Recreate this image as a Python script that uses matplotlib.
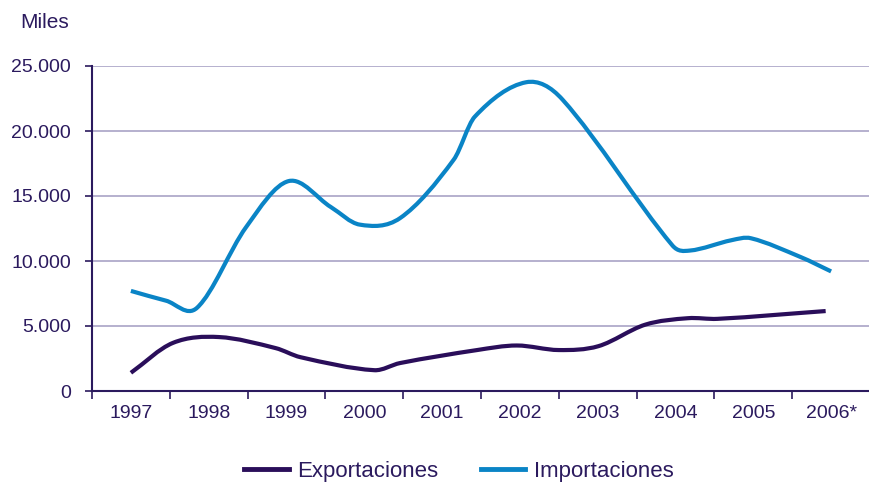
import matplotlib
matplotlib.use("Agg")
import matplotlib.pyplot as plt
from matplotlib.path import Path
from matplotlib.patches import PathPatch
from matplotlib.lines import Line2D

plt.rcParams['font.family'] = ['Liberation Sans', 'DejaVu Sans']

years = [1997, 1998, 1999, 2000, 2001, 2002, 2003, 2004, 2005, 2006]
year_labels = ['1997', '1998', '1999', '2000', '2001', '2002', '2003', '2004', '2005', '2006*']

# points (x in years, y in miles)
exp_x = [1997.0, 1997.54, 1998.13, 1998.86, 1999.18, 2000.13, 2000.46, 2001.45,
         2001.96, 2002.5, 2003.01, 2003.61, 2004.16, 2004.54, 2005.93]
exp_y = [1400, 3700, 4150, 3300, 2600, 1600, 2150, 3150,
         3500, 3150, 3450, 5100, 5600, 5550, 6150]

imp_x = [1997.0, 1997.45, 1997.85, 1998.48, 1999.03, 1999.57, 1999.94, 2000.46,
         2001.15, 2001.42, 2002.08, 2002.55, 2003.96, 2004.18, 2004.72, 2004.97,
         2005.61, 2006.0]
imp_y = [7700, 6950, 6400, 12600, 16150, 14150, 12800, 13300,
         17800, 21100, 23750, 22400, 11200, 10800, 11600, 11750,
         10300, 9200]

dark = '#2B1A5E'
c_exp = '#2A0E5A'
c_imp = '#0A84C6'


def smooth_path(xs, ys):
    n = len(xs)
    slopes = []
    for i in range(n):
        a = max(i - 1, 0)
        b = min(i + 1, n - 1)
        slopes.append((ys[b] - ys[a]) / (xs[b] - xs[a]))
    verts = [(xs[0], ys[0])]
    codes = [Path.MOVETO]
    for i in range(n - 1):
        d = (xs[i + 1] - xs[i]) / 3
        verts += [(xs[i] + d, ys[i] + slopes[i] * d),
                  (xs[i + 1] - d, ys[i + 1] - slopes[i + 1] * d),
                  (xs[i + 1], ys[i + 1])]
        codes += [Path.CURVE4] * 3
    return Path(verts, codes)


fig = plt.figure(figsize=(8.7, 4.84), dpi=100)
ax = fig.add_axes([92 / 870, (484 - 391) / 484, 1 - 92 / 870, 325 / 484])

ax.add_patch(PathPatch(smooth_path(exp_x, exp_y), fill=False, edgecolor=c_exp,
                       lw=3, capstyle='butt', joinstyle='round', zorder=3))
ax.add_patch(PathPatch(smooth_path(imp_x, imp_y), fill=False, edgecolor=c_imp,
                       lw=3, capstyle='butt', joinstyle='round', zorder=3))

ax.set_xlim(1996.5, 1996.5 + 778 / 78.5)
ax.set_ylim(0, 25000)

yt = [0, 5000, 10000, 15000, 20000, 25000]
ax.set_yticks(yt)
ax.set_yticklabels(['0', '5.000', '10.000', '15.000', '20.000', '25.000'])
ax.set_xticks([y - 0.5 for y in years] + [2006.5])
ax.set_xticklabels([])
ax.set_xticks(years, minor=True)
ax.set_xticklabels(year_labels, minor=True)
ax.tick_params(axis='x', which='minor', length=0, pad=10)
ax.tick_params(axis='x', which='major', length=6, width=1.2, color=dark)
ax.tick_params(axis='y', length=5, width=1.2, color=dark, pad=10)
ax.tick_params(labelsize=14, labelcolor=dark, which='both')

ax.grid(axis='y', color='#A9A3C6', lw=1.2)
ax.set_axisbelow(True)
for s in ['top', 'right']:
    ax.spines[s].set_visible(False)
for s in ['left', 'bottom']:
    ax.spines[s].set_color(dark)
    ax.spines[s].set_linewidth(1.5)

fig.text(20 / 870, 1 - 22 / 484, 'Miles', fontsize=15, color=dark, va='center')

handles = [Line2D([], [], color=c_exp, lw=3.5), Line2D([], [], color=c_imp, lw=3.5)]
fig.legend(handles, ['Exportaciones', 'Importaciones'], ncol=2, frameon=False,
           loc='center', bbox_to_anchor=(459 / 870, 1 - 471 / 484),
           fontsize=16, labelcolor=dark, handlelength=2.0, columnspacing=1.9,
           handletextpad=0.4)

fig.savefig('out.png', dpi=100)
